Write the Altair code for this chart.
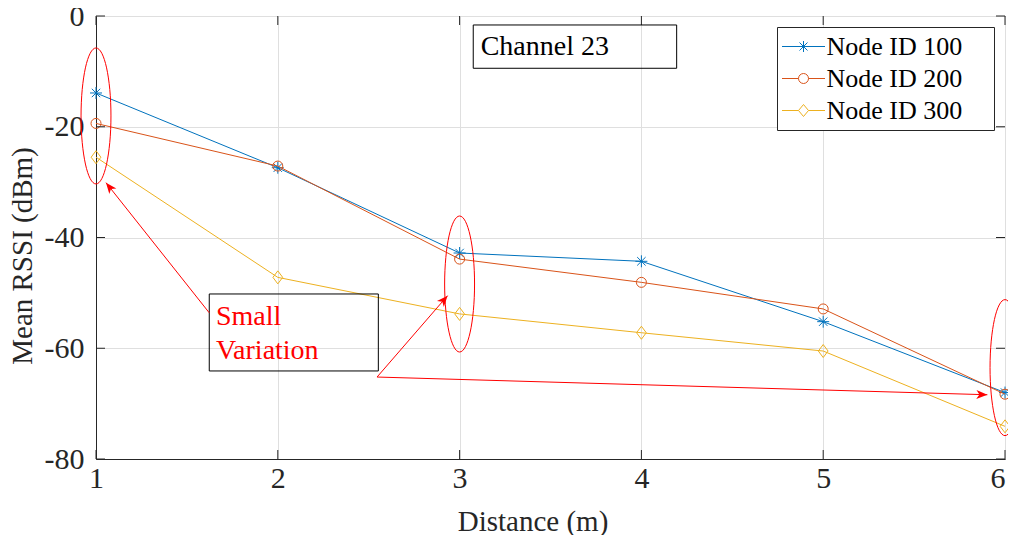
import math
import altair as alt
import pandas as pd

# ---------------- data ----------------
distance = [1, 2, 3, 4, 5, 6]
rssi_node_100 = [-13.9, -27.4, -42.8, -44.3, -55.2, -68.0]
rssi_node_200 = [-19.4, -27.1, -43.9, -48.1, -52.9, -68.3]
rssi_node_300 = [-25.5, -47.2, -53.8, -57.2, -60.5, -74.1]
series_names = ["Node ID 100", "Node ID 200", "Node ID 300"]
series_colors = ["#0072BD", "#D95319", "#EDB120"]
x_tick_values = [1, 2, 3, 4, 5, 6]
y_tick_values = [-80, -60, -40, -20, 0]

# annotations (data coordinates)
black_texts = ["Channel 23"]
black_text_x = [3.116]
black_text_y = [-7.04]
red_texts = ["Small", "Variation"]
red_text_x = [1.66, 1.66]
red_text_y = [-55.8, -61.9]
box_x = [3.075, 1.623]
box_x2 = [4.194, 2.553]
box_y = [-1.62, -50.2]
box_y2 = [-9.44, -64.1]
ellipse_x = [1, 3, 6]
ellipse_y = [-18.05, -48.4, -63.5]
arrow_x = [1.623, 2.546, 2.546]
arrow_y = [-53.6, -65.2, -65.2]
arrow_x2 = [1.055, 2.934, 5.903]
arrow_y2 = [-30.1, -50.5, -68.4]

# ---------------- layout / style ----------------
W, H = 909, 443
FONT = "Liberation Serif"
AX = "#262626"
RED = "#FF0000"

ASTERISK = "M -1 0 L 1 0 M 0 -1 L 0 1 M -0.7 -0.7 L 0.7 0.7 M -0.7 0.7 L 0.7 -0.7"
DIAMOND = "M 0 -1 L 0.75 0 L 0 1 L -0.75 0 Z"
plot_shapes = [ASTERISK, "circle", DIAMOND]
plot_sizes = [144, 100, 169]

LEG_AST = "M -2.15 0 L 2.15 0 M 0 -0.55 L 0 0.55 M -0.4 -0.4 L 0.4 0.4 M -0.4 0.4 L 0.4 -0.4"
LEG_CIRC = ("M -2.15 0 L -0.5 0 M 0.5 0 L 2.15 0 M 0.5 0 C 0.5 0.276 0.276 0.5 0 0.5 "
            "C -0.276 0.5 -0.5 0.276 -0.5 0 C -0.5 -0.276 -0.276 -0.5 0 -0.5 "
            "C 0.276 -0.5 0.5 -0.276 0.5 0 Z")
LEG_DIAM = "M -2.15 0 L -0.5 0 M 0.5 0 L 2.15 0 M 0 -0.6 L 0.5 0 L 0 0.6 L -0.5 0 Z"

ELLIPSE = ("M 0 -1 C 0.1215 -1 0.22 -0.5523 0.22 0 C 0.22 0.5523 0.1215 1 0 1 "
           "C -0.1215 1 -0.22 0.5523 -0.22 0 C -0.22 -0.5523 -0.1215 -1 0 -1 Z")
ARROWHEAD = "M 0 0 L 0.45 1.1 L 0 0.8 L -0.45 1.1 Z"

# ---------------- tables ----------------
rows = []
for name, vals in zip(series_names, [rssi_node_100, rssi_node_200, rssi_node_300]):
    for d, v in zip(distance, vals):
        rows.append({"distance": d, "rssi": v, "node": name})
df = pd.DataFrame(rows)

sx = W / (6 - 1)
sy = H / 80.0
angles = []
for x1, y1, x2, y2 in zip(arrow_x, arrow_y, arrow_x2, arrow_y2):
    dx = (x2 - x1) * sx
    dy = -(y2 - y1) * sy
    angles.append(math.degrees(math.atan2(dx, -dy)) % 360)
arrows = pd.DataFrame({"x": arrow_x, "y": arrow_y, "x2": arrow_x2, "y2": arrow_y2, "angle": angles})
boxes = pd.DataFrame({"x": box_x, "x2": box_x2, "y": box_y, "y2": box_y2})
ellipses = pd.DataFrame({"x": ellipse_x, "y": ellipse_y})
btext = pd.DataFrame({"x": black_text_x, "y": black_text_y, "t": black_texts})
rtext = pd.DataFrame({"x": red_text_x, "y": red_text_y, "t": red_texts})
yt = pd.DataFrame({"v": y_tick_values})
xt = pd.DataFrame({"v": x_tick_values})

xs = alt.Scale(domain=[1, 6], nice=False, zero=False)
ys = alt.Scale(domain=[-80, 0], nice=False, zero=False)
cscale = alt.Scale(domain=series_names, range=series_colors)

x_axis = alt.Axis(values=x_tick_values, format="d", title="Distance (m)", labelPadding=4,
                  labelFlush=False,
                  labelAlign={"expr": "datum.value == 6 ? 'right' : 'center'"},
                  titleX=W / 2 - 18, titleY=62, titleBaseline="middle", grid=True)
y_axis = alt.Axis(values=y_tick_values, labelExpr="datum.value + ''", title="Mean RSSI (dBm)",
                  labelFlush=False, labelPadding=12, titleX=-74, titleY=H / 2 + 18,
                  titleBaseline="middle", grid=True)


def X(field):
    return alt.X(field, scale=xs, axis=x_axis)


def Y(field):
    return alt.Y(field, scale=ys, axis=y_axis)


layers = []
for name, col, shp, sz in zip(series_names, series_colors, plot_shapes, plot_sizes):
    sub = alt.Chart(df).transform_filter(alt.datum.node == name)
    line = sub.mark_line(strokeWidth=1, color=col).encode(x=X("distance:Q"), y=Y("rssi:Q"))
    pts = sub.mark_point(shape=shp, size=sz, filled=False, strokeWidth=1, opacity=1,
                         color=col).encode(x=X("distance:Q"), y=Y("rssi:Q"))
    layers += [line, pts]

# inward ticks on all four sides
tick_l = alt.Chart(yt).mark_rule(color=AX, strokeWidth=1).encode(
    y=Y("v:Q"), x=alt.value(0), x2=alt.value(9))
tick_r = alt.Chart(yt).mark_rule(color=AX, strokeWidth=1).encode(
    y=Y("v:Q"), x=alt.value(W - 9), x2=alt.value(W))
tick_b = alt.Chart(xt).mark_rule(color=AX, strokeWidth=1).encode(
    x=X("v:Q"), y=alt.value(H - 9), y2=alt.value(H))
tick_t = alt.Chart(xt).mark_rule(color=AX, strokeWidth=1).encode(
    x=X("v:Q"), y=alt.value(0), y2=alt.value(9))
layers += [tick_l, tick_r, tick_b, tick_t]

box_layer = alt.Chart(boxes).mark_rect(fill="transparent", stroke="#000000", strokeWidth=1).encode(
    x=X("x:Q"), x2="x2:Q", y=Y("y:Q"), y2="y2:Q")
btext_layer = alt.Chart(btext).mark_text(align="left", baseline="alphabetic", font=FONT,
                                         fontSize=28, color="#000000").encode(
    x=X("x:Q"), y=Y("y:Q"), text="t:N")
rtext_layer = alt.Chart(rtext).mark_text(align="left", baseline="alphabetic", font=FONT,
                                         fontSize=28, color=RED).encode(
    x=X("x:Q"), y=Y("y:Q"), text="t:N")
ell_layer = alt.Chart(ellipses).mark_point(shape=ELLIPSE, size=18496, filled=False, color=RED,
                                           strokeWidth=1, opacity=1).encode(
    x=X("x:Q"), y=Y("y:Q"))
arrow_lines = alt.Chart(arrows).mark_rule(color=RED, strokeWidth=1).encode(
    x=X("x:Q"), y=Y("y:Q"), x2="x2:Q", y2="y2:Q")
arrow_heads = alt.Chart(arrows).mark_point(shape=ARROWHEAD, size=400, filled=True, color=RED,
                                           strokeWidth=0, opacity=1).encode(
    x=X("x2:Q"), y=Y("y2:Q"), angle=alt.Angle("angle:Q", scale=None))
layers += [box_layer, btext_layer, rtext_layer, ell_layer, arrow_lines, arrow_heads]

# invisible right-hand title only widens the legend box (MATLAB-style spare space)
legend = alt.Legend(
    orient="top-right", offset=11, padding=6.5,
    title="MM", titleOrient="right", titleOpacity=0, titleFontSize=13, titlePadding=0,
    titleFont=FONT,
    symbolSize=400, symbolOffset=7, labelOffset=10, rowPadding=6,
    labelFont=FONT, labelFontSize=26, labelColor="#000000",
    strokeColor=AX, fillColor="#FFFFFF", cornerRadius=0,
    symbolStrokeWidth=1, symbolOpacity=1,
)
legend_layer = alt.Chart(df).mark_point(filled=False, opacity=0, size=400, strokeWidth=1).encode(
    x=X("distance:Q"),
    y=Y("rssi:Q"),
    color=alt.Color("node:N", scale=cscale, legend=legend),
    shape=alt.Shape("node:N", scale=alt.Scale(domain=series_names,
                                              range=[LEG_AST, LEG_CIRC, LEG_DIAM]),
                    legend=legend),
)
layers.append(legend_layer)

chart = alt.layer(*layers).properties(
    width=W, height=H,
    autosize="none",
    padding={"left": 88, "top": 8, "right": 3, "bottom": 76},
).configure_view(
    stroke=AX, strokeWidth=1,
).configure_axis(
    labelFont=FONT, labelFontSize=30, labelColor=AX,
    titleFont=FONT, titleFontSize=29, titleFontWeight="normal", titleColor=AX,
    domainColor=AX, domainWidth=1, gridColor="#DFDFDF", gridWidth=1, ticks=False,
)

chart.save("out.html", embed_options={"renderer": "svg", "actions": False})
